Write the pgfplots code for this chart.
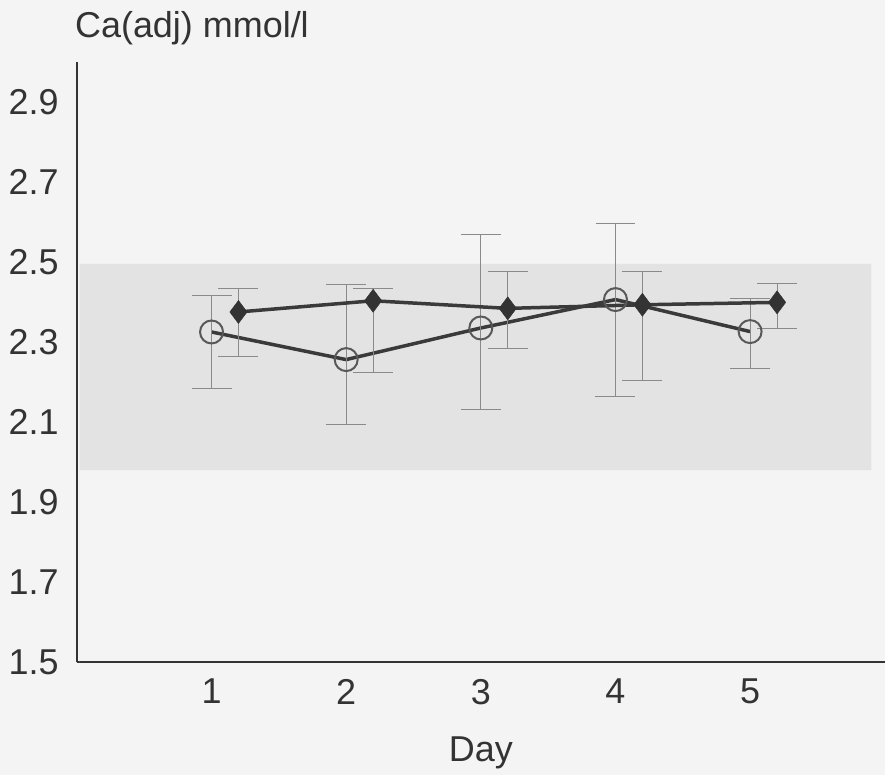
\documentclass[border=0pt]{standalone}
\usepackage{fontspec}
\setmainfont{Liberation Sans}
\usepackage{pgfplots}
\usepackage{pgfplotstable}
\pgfplotsset{compat=1.18}
\definecolor{bg}{HTML}{F4F4F4}
\definecolor{band}{HTML}{E3E3E3}
\definecolor{ink}{HTML}{333333}
\definecolor{lin}{HTML}{3A3A3A}
\definecolor{err}{HTML}{8A8A8A}
\newcommand\bigf{\fontsize{36}{42}\selectfont}

\pgfplotstableread{
x y ep em
1 2.325 0.090 0.141
2 2.256 0.188 0.162
3 2.335 0.2325 0.2025
4 2.406 0.191 0.243
5 2.326 0.0815 0.092
}\opendata

\pgfplotstableread{
x y ep em
1.2 2.375 0.059 0.112
2.2 2.403 0.031 0.180
3.2 2.384 0.092 0.100
4.2 2.393 0.083 0.190
5.2 2.399 0.046 0.065
}\fulldata

\begin{document}
\begin{tikzpicture}
\fill[bg] (0pt,0pt) rectangle (886pt,776pt);
\begin{axis}[
  at={(77pt,113pt)}, anchor=south west,
  scale only axis, width=809pt, height=601pt,
  xmin=0, xmax=6, ymin=1.5, ymax=3.0,
  axis x line=bottom, axis y line=left,
  axis line style={-, line width=2.5pt, color=ink},
  xtick={1,2,3,4,5},
  ytick={1.5,1.7,1.9,2.1,2.3,2.5,2.7,2.9},
  major tick length=0pt,
  /pgf/number format/assume math mode=true,
  yticklabel={\pgfmathprintnumber[fixed,fixed zerofill,precision=1]{\tick}},
  ticklabel style={font=\bigf, text=ink, inner sep=0pt},
  yticklabel style={anchor=east, xshift=-18pt},
  xticklabel style={anchor=north, yshift=-17pt},
  xlabel={Day},
  xlabel style={font=\bigf, text=ink, inner sep=0pt, at={(axis description cs:0.5,0)}, anchor=north, yshift=-75pt},
  title={Ca(adj) mmol/l},
  title style={font=\bigf, text=ink, inner sep=0pt, at={(axis description cs:0,1)}, anchor=base west, yshift=18pt, xshift=-2pt},
  clip=false,
]
\addplot[fill=band, draw=none] coordinates {(0.02,1.98) (5.9,1.98) (5.9,2.495) (0.02,2.495)} \closedcycle;

\addplot[lin, line width=3.5pt, mark=o, mark size=11.5pt,
  mark options={line width=2pt, color=lin!85, fill=none},
  error bars/.cd, y dir=both, y explicit, error mark=|,
  error bar style={line width=1pt, color=err},
  error mark options={line width=1pt, mark size=20pt, color=err}]
  table[x=x, y=y, y error plus=ep, y error minus=em] {\opendata};

\addplot[lin, line width=3.5pt, mark=diamond*, mark size=11.5pt,
  mark options={line width=0.5pt, fill=ink, draw=ink},
  error bars/.cd, y dir=both, y explicit, error mark=|,
  error bar style={line width=1pt, color=err},
  error mark options={line width=1pt, mark size=20pt, color=err}]
  table[x=x, y=y, y error plus=ep, y error minus=em] {\fulldata};
\end{axis}
\end{tikzpicture}
\end{document}
